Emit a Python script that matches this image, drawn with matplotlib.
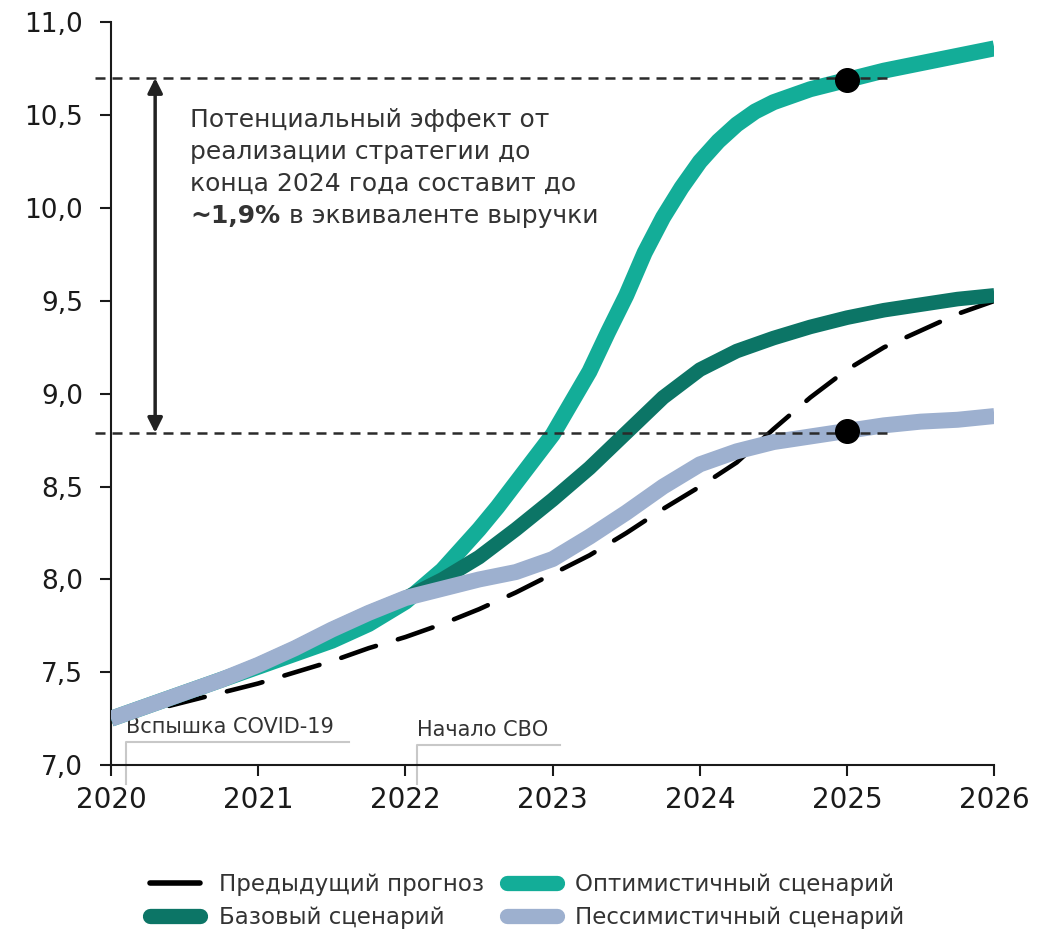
import matplotlib
matplotlib.use("Agg")
import matplotlib.pyplot as plt
from matplotlib.lines import Line2D
from matplotlib.ticker import FuncFormatter

plt.rcParams['font.family'] = ['DejaVu Sans']

# квартальные точки
years = [2020, 2020.25, 2020.5, 2020.75, 2021, 2021.25, 2021.5, 2021.75,
         2022, 2022.25, 2022.5, 2022.75, 2023, 2023.25, 2023.5, 2023.75,
         2024, 2024.25, 2024.5, 2024.75, 2025, 2025.25, 2025.5, 2025.75, 2026]

prev_fc = [7.25, 7.29, 7.34, 7.39, 7.44, 7.50, 7.56, 7.63,
           7.69, 7.76, 7.84, 7.93, 8.03, 8.13, 8.25, 8.38,
           8.50, 8.63, 8.81, 8.98, 9.13, 9.25, 9.34, 9.43, 9.50]
base = [7.25, 7.32, 7.39, 7.46, 7.54, 7.63, 7.73, 7.82,
        7.90, 8.00, 8.12, 8.27, 8.43, 8.60, 8.79, 8.98,
        9.13, 9.23, 9.30, 9.36, 9.41, 9.45, 9.48, 9.51, 9.53]
pessimistic = [7.25, 7.32, 7.39, 7.46, 7.54, 7.63, 7.73, 7.82,
               7.90, 7.95, 8.00, 8.04, 8.11, 8.23, 8.36, 8.50,
               8.62, 8.69, 8.74, 8.77, 8.80, 8.83, 8.85, 8.86, 8.88]

# у оптимистичного сценария крутой участок прочитан чаще
opt_years = [2020, 2020.25, 2020.5, 2020.75, 2021, 2021.25, 2021.5, 2021.75,
             2022, 2022.25, 2022.5, 2022.625, 2022.75, 2022.875, 2023,
             2023.125, 2023.25, 2023.375, 2023.5, 2023.625, 2023.75, 2023.875,
             2024, 2024.125, 2024.25, 2024.375, 2024.5, 2024.75,
             2025, 2025.25, 2025.5, 2025.75, 2026]
optimistic = [7.25, 7.32, 7.39, 7.46, 7.53, 7.60, 7.67, 7.76,
              7.88, 8.05, 8.27, 8.39, 8.52, 8.65, 8.78,
              8.95, 9.12, 9.33, 9.53, 9.76, 9.95, 10.11,
              10.25, 10.36, 10.45, 10.52, 10.57, 10.64,
              10.69, 10.74, 10.78, 10.82, 10.86]

top_level = 10.70
low_level = 8.79
dot_year = 2025
dot_values = [10.69, 8.80]
y_ticks = [7.0, 7.5, 8.0, 8.5, 9.0, 9.5, 10.0, 10.5, 11.0]
x_ticks = [2020, 2021, 2022, 2023, 2024, 2025, 2026]

c_opt = '#13ad98'
c_base = '#0c7566'
c_pess = '#9db0cf'
c_text = '#333333'

fig = plt.figure(figsize=(10.61, 9.32), dpi=100)
ax = fig.add_axes([0.1046, 0.179, 0.8326, 0.797])

line_kw = dict(solid_capstyle='butt', solid_joinstyle='round')
ax.plot(years, prev_fc, color='black', lw=3.3, dashes=(8, 5),
        dash_capstyle='round', dash_joinstyle='round', zorder=2)
ax.plot(opt_years, optimistic, color=c_opt, lw=11.5, zorder=3, **line_kw)
ax.plot(years, base, color=c_base, lw=10.5, zorder=4, **line_kw)
ax.plot(years, pessimistic, color=c_pess, lw=11.5, zorder=5, **line_kw)

for lvl in (top_level, low_level):
    ax.plot([2019.89, 2025.29], [lvl, lvl], color='#2a2a2a', lw=1.8,
            linestyle=(0, (4, 2.8)), clip_on=False, zorder=6)
ax.plot([dot_year] * len(dot_values), dot_values, 'o',
        color='black', ms=17, zorder=7)

ax.annotate('', xy=(2020.30, top_level), xytext=(2020.30, low_level),
            arrowprops=dict(arrowstyle='<|-|>', color='#222222', lw=2.5,
                            mutation_scale=22, shrinkA=0, shrinkB=0))

# текст по строкам
fs_note = 18
note_lines = ['Потенциальный эффект от', 'реализации стратегии до',
              'конца 2024 года составит до']
y0 = 10.435
step = 0.1723
for i, s in enumerate(note_lines):
    ax.text(2020.54, y0 - i * step, s, fontsize=fs_note, color=c_text,
            va='baseline', ha='left')
bold = ax.text(2020.54, y0 - 3 * step, '~1,9%', fontsize=fs_note, color=c_text,
               fontweight='bold', va='baseline', ha='left')
ax.annotate(' в эквиваленте выручки', xy=(1, 0), xycoords=bold,
            fontsize=fs_note, color=c_text, va='bottom', ha='left')

# отметки событий
events = [('Вспышка COVID-19', 2020.10, 2021.62, 7.125),
          ('Начало СВО', 2022.08, 2023.05, 7.11)]
for label, x0, x1, yl in events:
    ax.plot([x0, x0, x1], [6.90, yl, yl], color='#c8c8c8', lw=1.5,
            clip_on=False, zorder=1)
    ax.text(x0 + 0.0, yl + 0.025, label, fontsize=15, color=c_text,
            ha='left', va='bottom')

ax.set_xlim(2020, 2026)
ax.set_ylim(7.0, 11.0)
ax.set_xticks(x_ticks)
ax.set_yticks(y_ticks)
ax.yaxis.set_major_formatter(FuncFormatter(lambda v, p: f'{v:.1f}'.replace('.', ',')))
ax.tick_params(axis='y', direction='out', length=8, width=1.5, labelsize=19,
               pad=12, colors='#1a1a1a')
ax.tick_params(axis='x', direction='out', length=8, width=1.5, labelsize=20,
               pad=7, colors='#1a1a1a')
for s in ('top', 'right'):
    ax.spines[s].set_visible(False)
for s in ('left', 'bottom'):
    ax.spines[s].set_linewidth(1.5)
    ax.spines[s].set_color('#1a1a1a')

handles = [Line2D([], [], color='black', lw=4, solid_capstyle='round'),
           Line2D([], [], color=c_base, lw=11, solid_capstyle='round'),
           Line2D([], [], color=c_opt, lw=11, solid_capstyle='round'),
           Line2D([], [], color=c_pess, lw=11, solid_capstyle='round')]
labels = ['Предыдущий прогноз', 'Базовый сценарий',
          'Оптимистичный сценарий', 'Пессимистичный сценарий']
fig.legend(handles, labels, loc='center', bbox_to_anchor=(0.497, 0.033),
           ncol=2, frameon=False, fontsize=16.5, handlelength=2.2,
           handletextpad=0.8, columnspacing=1.0, labelspacing=0.45,
           labelcolor=c_text)

fig.savefig('out.png', dpi=100)
